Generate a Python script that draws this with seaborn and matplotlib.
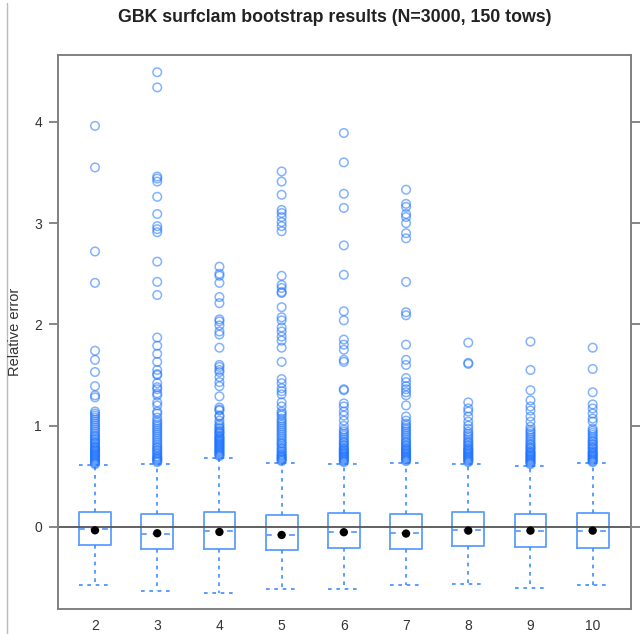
import matplotlib
matplotlib.use("Agg")
import matplotlib.pyplot as plt
from matplotlib.lines import Line2D
import numpy as np
import pandas as pd
import seaborn as sns

# Number of tows per stratum group (x categories)
categories = [2, 3, 4, 5, 6, 7, 8, 9, 10]

# Box statistics of relative error
q1 = [-0.174, -0.213, -0.217, -0.223, -0.204, -0.217, -0.190, -0.197, -0.204]
q3 = [0.145, 0.132, 0.148, 0.122, 0.135, 0.132, 0.145, 0.132, 0.139]
medians = [-0.020, -0.065, -0.039, -0.079, -0.049, -0.059, -0.033, -0.039, -0.036]
means = [-0.033, -0.062, -0.049, -0.079, -0.052, -0.065, -0.036, -0.036, -0.036]
whisker_low = [-0.569, -0.628, -0.651, -0.615, -0.615, -0.573, -0.563, -0.598, -0.573]
whisker_high = [0.609, 0.626, 0.685, 0.636, 0.626, 0.636, 0.626, 0.606, 0.632]

# Outlying bootstrap replicates
out2 = [3.96, 3.55, 2.72, 2.41, 1.74, 1.65, 1.53, 1.39, 1.30, 1.28, 1.14, 1.12,
        1.10, 1.08, 1.06, 1.04, 1.02, 1.00, 0.98, 0.96, 0.94, 0.92, 0.90, 0.89,
        0.87, 0.86, 0.84, 0.83, 0.82, 0.80, 0.79, 0.78, 0.77, 0.76, 0.75, 0.74,
        0.73, 0.72, 0.71, 0.70, 0.69, 0.68, 0.67, 0.66, 0.65, 0.64, 0.63, 0.62]
out3 = [4.49, 4.34, 3.46, 3.44, 3.41, 3.26, 3.09, 2.97, 2.94, 2.91, 2.62, 2.42,
        2.29, 1.87, 1.79, 1.71, 1.63, 1.55, 1.51, 1.50, 1.42, 1.38, 1.36, 1.32,
        1.30, 1.23, 1.20, 1.14, 1.12, 1.08, 1.05, 1.03, 1.01, 0.99, 0.97, 0.95,
        0.93, 0.91, 0.89, 0.87, 0.85, 0.83, 0.81, 0.79, 0.78, 0.76, 0.75, 0.73,
        0.72, 0.70, 0.69, 0.68, 0.67, 0.66, 0.65, 0.64]
out4 = [2.57, 2.50, 2.48, 2.41, 2.27, 2.21, 2.05, 2.03, 1.99, 1.93, 1.90, 1.77,
        1.60, 1.58, 1.55, 1.53, 1.48, 1.43, 1.39, 1.29, 1.18, 1.16, 1.15, 1.10,
        1.09, 1.05, 1.02, 1.00, 0.98, 0.97, 0.95, 0.94, 0.93, 0.92, 0.90, 0.89,
        0.88, 0.87, 0.86, 0.85, 0.84, 0.83, 0.82, 0.81, 0.80, 0.79, 0.78, 0.77,
        0.76, 0.75, 0.74, 0.73, 0.72, 0.71, 0.70]
out5 = [3.51, 3.41, 3.28, 3.13, 3.10, 3.06, 3.01, 2.97, 2.92, 2.48, 2.39, 2.36,
        2.32, 2.31, 2.17, 2.07, 2.04, 1.97, 1.93, 1.88, 1.84, 1.77, 1.63, 1.46,
        1.42, 1.37, 1.34, 1.31, 1.23, 1.19, 1.14, 1.12, 1.10, 1.07, 1.05, 1.03,
        1.01, 0.99, 0.97, 0.95, 0.93, 0.91, 0.89, 0.87, 0.85, 0.83, 0.82, 0.80,
        0.78, 0.77, 0.75, 0.74, 0.72, 0.71, 0.70, 0.69, 0.68, 0.67, 0.66, 0.65]
out6 = [3.89, 3.60, 3.29, 3.15, 2.78, 2.49, 2.13, 2.04, 1.85, 1.80, 1.75, 1.65,
        1.63, 1.36, 1.35, 1.22, 1.19, 1.14, 1.10, 1.05, 1.00, 0.96, 0.94, 0.92,
        0.90, 0.88, 0.86, 0.84, 0.83, 0.81, 0.80, 0.78, 0.77, 0.76, 0.75, 0.74,
        0.73, 0.72, 0.71, 0.70, 0.69, 0.68, 0.67, 0.66, 0.65, 0.64]
out7 = [3.33, 3.19, 3.16, 3.09, 3.06, 3.00, 2.90, 2.85, 2.42, 2.12, 2.09, 1.80,
        1.65, 1.60, 1.47, 1.43, 1.39, 1.36, 1.33, 1.30, 1.20, 1.09, 1.05, 1.02,
        1.00, 0.98, 0.96, 0.94, 0.92, 0.90, 0.88, 0.86, 0.84, 0.83, 0.81, 0.80,
        0.78, 0.77, 0.76, 0.75, 0.74, 0.73, 0.72, 0.71, 0.70, 0.69, 0.68, 0.67,
        0.66, 0.65]
out8 = [1.82, 1.62, 1.61, 1.23, 1.17, 1.14, 1.09, 1.04, 1.00, 0.97, 0.94, 0.92,
        0.90, 0.88, 0.86, 0.84, 0.83, 0.81, 0.80, 0.78, 0.77, 0.76, 0.75, 0.74,
        0.73, 0.72, 0.71, 0.70, 0.69, 0.68, 0.67, 0.66, 0.65, 0.64]
out9 = [1.83, 1.55, 1.35, 1.25, 1.19, 1.15, 1.09, 1.04, 0.99, 0.96, 0.94, 0.92,
        0.90, 0.88, 0.86, 0.84, 0.82, 0.81, 0.79, 0.78, 0.77, 0.75, 0.74, 0.73,
        0.72, 0.71, 0.70, 0.69, 0.68, 0.67, 0.66, 0.65, 0.64, 0.63, 0.62]
out10 = [1.77, 1.56, 1.33, 1.21, 1.17, 1.12, 1.07, 1.04, 0.97, 0.95, 0.93, 0.91,
         0.89, 0.87, 0.85, 0.84, 0.82, 0.81, 0.79, 0.78, 0.77, 0.75, 0.74, 0.73,
         0.72, 0.71, 0.70, 0.69, 0.68, 0.67, 0.66, 0.65, 0.64]
outliers = [out2, out3, out4, out5, out6, out7, out8, out9, out10]

sns.set_theme(style="white")
plt.rcParams["font.family"] = ["Liberation Sans", "DejaVu Sans"]

fig = plt.figure(figsize=(6.42, 6.34), dpi=100)
ax = fig.add_axes([58 / 642, 1 - 609 / 634, (631 - 58) / 642, (609 - 55) / 634])

pos = np.arange(len(categories))
box_col = "#5c9dff"
wh_col = "#3f8cff"

stats = [dict(q1=a, q3=b, med=m, whislo=lo, whishi=hi, label=str(c))
         for a, b, m, lo, hi, c in zip(q1, q3, medians, whisker_low, whisker_high, categories)]
ax.bxp(stats, positions=pos, widths=0.51, capwidths=0.51, showfliers=False,
       patch_artist=False, manage_ticks=False,
       boxprops=dict(color=box_col, linewidth=1.3),
       whiskerprops=dict(color=wh_col, linewidth=1.2, linestyle=(0, (2.2, 2.8))),
       capprops=dict(color=wh_col, linewidth=1.2, linestyle=(0, (2.2, 2.8))),
       medianprops=dict(color=box_col, linewidth=1.3, linestyle=(0, (3.2, 3.2))))

# outlying replicates as open circles
out_df = pd.DataFrame({
    "pos": np.concatenate([[p] * len(o) for p, o in zip(pos, outliers)]),
    "value": np.concatenate(outliers),
})
sns.scatterplot(data=out_df, x="pos", y="value", ax=ax, marker="o",
                s=38, facecolor="none", edgecolor="#1f74ff", linewidth=1.1,
                alpha=0.55, zorder=3)

# mean of each group
mean_df = pd.DataFrame({"pos": pos, "mean": means})
sns.scatterplot(data=mean_df, x="pos", y="mean", ax=ax, color="black",
                s=36, edgecolor="none", zorder=5)

ax.axhline(0, color="#555555", linewidth=1.3, zorder=2)

ax.set_xlim(-0.595, 8.616)
ax.set_ylim(-0.81, 4.66)
ax.set_xticks(pos)
ax.set_xticklabels([str(c) for c in categories])
ax.set_yticks([0, 1, 2, 3, 4])
ax.set_xlabel("")
ax.set_ylabel("")
ax.tick_params(axis="x", length=0, pad=7, labelsize=10, labelcolor="#333333")
ax.tick_params(axis="y", which="both", direction="out", length=6.5, width=1.1,
               color="#666666", left=True, right=True, labelleft=True,
               labelright=False, pad=5, labelsize=10, labelcolor="#333333")
for sp in ax.spines.values():
    sp.set_color("#808080")
    sp.set_linewidth(1.4)

fig.text(15 / 642, 1 - 332 / 634, "Relative error", rotation=90,
         ha="center", va="center", fontsize=10.5, color="#333333")
fig.text(335 / 642, 1 - 17 / 634, "GBK surfclam bootstrap results (N=3000, 150 tows)",
         ha="center", va="center", fontsize=12.8, fontweight="bold", color="#222222")

fig.add_artist(Line2D([6.5 / 642, 6.5 / 642], [0, 0.995], color="#bbbbbb", linewidth=1.0))

fig.savefig("out.png", dpi=100)
